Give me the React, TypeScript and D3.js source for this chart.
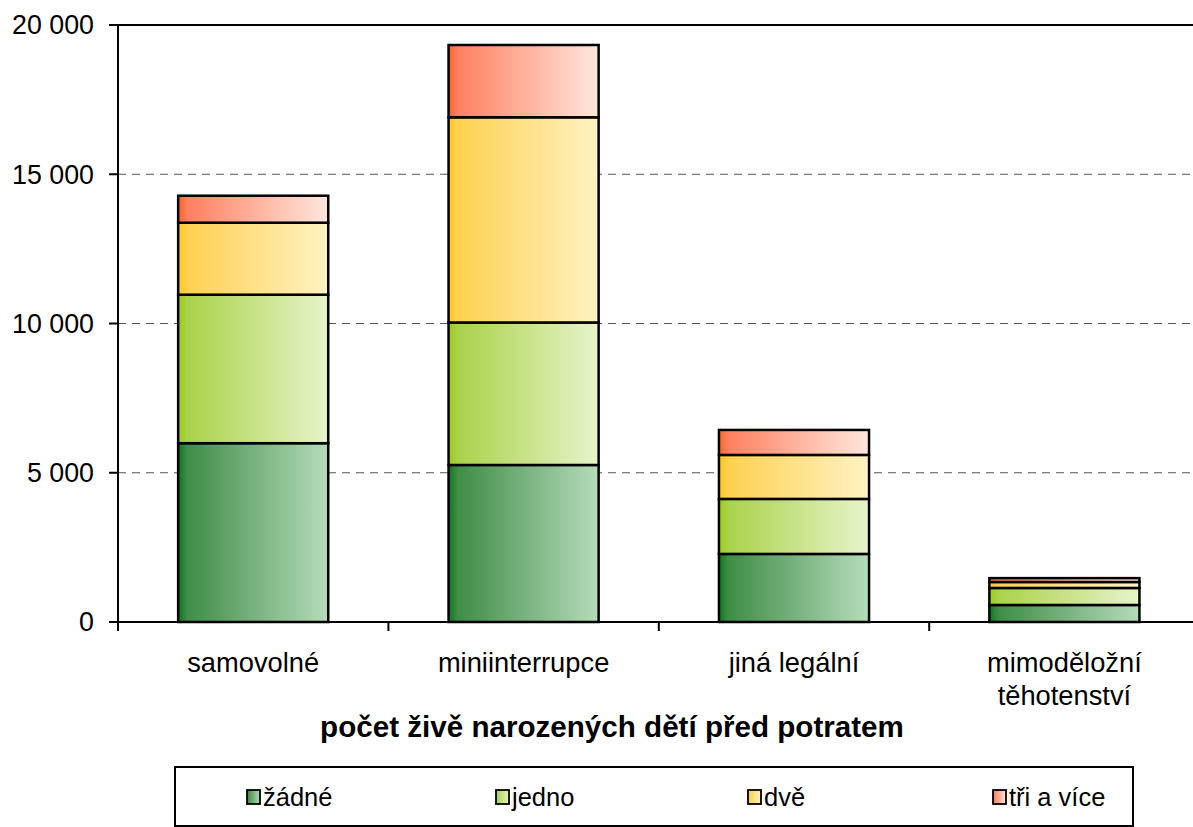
import React from "react";
import * as d3 from "d3";

const categories = ["samovolné", "miniinterrupce", "jiná legální", "mimoděložní\ntěhotenství"];
const seriesNames = ["žádné", "jedno", "dvě", "tři a více"];
const zadne = [5990, 5260, 2280, 570];
const jedno = [4975, 4774, 1843, 570];
const dve = [2412, 6874, 1474, 200];
const triAVice = [904, 2422, 837, 130];
const yTicks = [0, 5000, 10000, 15000, 20000];
const axisTitle = "počet živě narozených dětí před potratem";

const gradients = [
  { id: "g0", c0: "#0d781c", c1: "#3f8d47", c2: "#b6dbba" },
  { id: "g1", c0: "#99cc14", c1: "#aad24a", c2: "#e7f4cb" },
  { id: "g2", c0: "#ffc814", c1: "#fdd050", c2: "#fff3c4" },
  { id: "g3", c0: "#ff6426", c1: "#ff8060", c2: "#ffe7de" },
];

const W = 1193;
const H = 827;
const FONT = "'Liberation Sans', Arial, sans-serif";

export default function App() {
  const left = 118;
  const right = 1199.6;
  const top = 25;
  const bottom = 622;

  const x = d3
    .scaleBand<string>()
    .domain(categories)
    .range([left, right])
    .paddingInner(0.445)
    .paddingOuter(0.2225);
  const y = d3.scaleLinear().domain([0, 20000]).range([bottom, top]);

  const table = categories.map((c, i) => ({
    cat: c,
    s0: zadne[i],
    s1: jedno[i],
    s2: dve[i],
    s3: triAVice[i],
  }));
  const stack = d3.stack<any>().keys(["s0", "s1", "s2", "s3"])(table);

  const step = x.step();
  const fmt = (v: number) => d3.format(",")(v).replace(/,/g, " ");

  const legendX = [247, 496, 748, 993];

  return (
    <svg
      width={W}
      height={H}
      style={{ position: "absolute", left: 0, top: 0, background: "#fff" }}
      fontFamily={FONT}
    >
      <defs>
        {gradients.map((g) => (
          <linearGradient key={g.id} id={g.id} x1="0" x2="1" y1="0" y2="0">
            <stop offset="0" stopColor={g.c0} />
            <stop offset="0.06" stopColor={g.c1} />
            <stop offset="1" stopColor={g.c2} />
          </linearGradient>
        ))}
      </defs>

      {/* gridlines */}
      {yTicks
        .filter((t) => t > 0 && t < 20000)
        .map((t) => (
          <line
            key={t}
            x1={left}
            x2={W}
            y1={y(t)}
            y2={y(t)}
            stroke="#555"
            strokeWidth={1}
            strokeDasharray="8,6"
          />
        ))}
      {/* top border */}
      <line x1={left} x2={W} y1={y(20000)} y2={y(20000)} stroke="#000" strokeWidth={2} />

      {/* bars */}
      {stack.map((layer, li) =>
        layer.map((d, i) => (
          <rect
            key={li + "-" + i}
            x={x(categories[i])!}
            width={x.bandwidth()}
            y={y(d[1])}
            height={y(d[0]) - y(d[1])}
            fill={`url(#${gradients[li].id})`}
            stroke="#000"
            strokeWidth={2.5}
          />
        ))
      )}

      {/* y axis */}
      <line x1={left} x2={left} y1={top} y2={bottom} stroke="#000" strokeWidth={2} />
      {yTicks.map((t) => (
        <g key={t}>
          <line x1={left - 9} x2={left} y1={y(t)} y2={y(t)} stroke="#000" strokeWidth={2} />
          <text
            x={94}
            y={y(t)}
            dy="0.35em"
            textAnchor="end"
            fontSize={26.8}
            fill="#000"
          >
            {fmt(t)}
          </text>
        </g>
      ))}

      {/* x axis */}
      <line x1={left - 9} x2={W} y1={bottom} y2={bottom} stroke="#000" strokeWidth={2} />
      {d3.range(categories.length + 1).map((k) => (
        <line
          key={k}
          x1={left + k * step}
          x2={left + k * step}
          y1={bottom}
          y2={bottom + 9}
          stroke="#000"
          strokeWidth={2}
        />
      ))}
      {categories.map((c) => {
        const cx = x(c)! + x.bandwidth() / 2;
        return (
          <text key={c} x={cx} y={672} textAnchor="middle" fontSize={27.3} fill="#000">
            {c.split("\n").map((line, j) => (
              <tspan key={j} x={cx} dy={j === 0 ? 0 : 33}>
                {line}
              </tspan>
            ))}
          </text>
        );
      })}

      {/* axis title */}
      <text x={612} y={737} textAnchor="middle" fontSize={29.6} fontWeight="bold" fill="#000">
        {axisTitle}
      </text>

      {/* legend */}
      <rect x={175} y={767} width={958} height={59} fill="#fff" stroke="#000" strokeWidth={2} />
      {seriesNames.map((s, i) => (
        <g key={s}>
          <rect
            x={legendX[i]}
            y={790}
            width={13}
            height={14}
            fill={`url(#${gradients[i].id})`}
            stroke="#000"
            strokeWidth={1.8}
          />
          <text x={legendX[i] + 16} y={806} fontSize={25.5} fill="#000">
            {s}
          </text>
        </g>
      ))}
    </svg>
  );
}
